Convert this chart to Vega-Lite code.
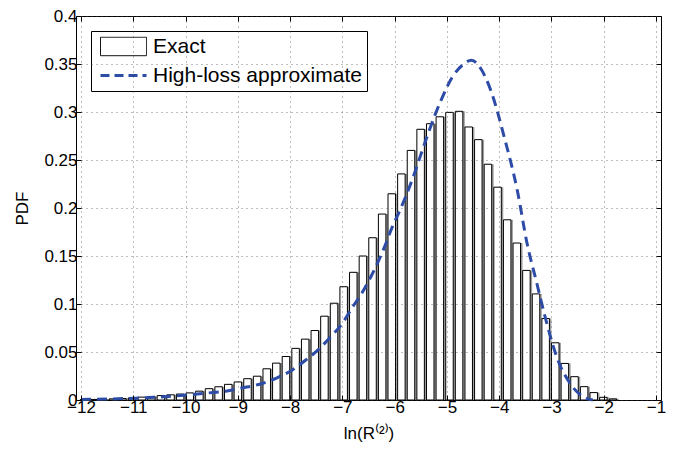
{
  "$schema": "https://vega.github.io/schema/vega-lite/v6.json",
  "autosize": "none",
  "width": 585,
  "height": 384,
  "padding": {"left": 76, "top": 16, "right": 34, "bottom": 50},
  "background": "white",
  "config": {
    "font": "Liberation Sans",
    "view": {"stroke": "black", "strokeWidth": 1},
    "axis": {"labelFont": "Liberation Sans", "titleFont": "Liberation Sans", "labelFontSize": 17, "titleFontSize": 17, "titleFontWeight": "normal", "labelColor": "black", "titleColor": "black", "domain": false, "tickColor": "black"}
  },
  "datasets": {
    "bars": [
      {"x": -11.943, "pdf": 0.0004}, {"x": -11.759, "pdf": 0.0006}, {"x": -11.575, "pdf": 0.0009}, {"x": -11.391, "pdf": 0.0012},
      {"x": -11.207, "pdf": 0.0016}, {"x": -11.023, "pdf": 0.0022}, {"x": -10.839, "pdf": 0.003}, {"x": -10.655, "pdf": 0.0037},
      {"x": -10.471, "pdf": 0.0046}, {"x": -10.287, "pdf": 0.0054}, {"x": -10.103, "pdf": 0.0062}, {"x": -9.919, "pdf": 0.0074},
      {"x": -9.735, "pdf": 0.0092}, {"x": -9.551, "pdf": 0.0118}, {"x": -9.367, "pdf": 0.0138}, {"x": -9.183, "pdf": 0.0163},
      {"x": -8.999, "pdf": 0.0188}, {"x": -8.815, "pdf": 0.0222}, {"x": -8.631, "pdf": 0.0248}, {"x": -8.447, "pdf": 0.0325},
      {"x": -8.263, "pdf": 0.0384}, {"x": -8.079, "pdf": 0.0453}, {"x": -7.895, "pdf": 0.0538}, {"x": -7.711, "pdf": 0.0634},
      {"x": -7.527, "pdf": 0.0724}, {"x": -7.343, "pdf": 0.0873}, {"x": -7.159, "pdf": 0.1008}, {"x": -6.975, "pdf": 0.118},
      {"x": -6.791, "pdf": 0.133}, {"x": -6.607, "pdf": 0.15}, {"x": -6.423, "pdf": 0.169}, {"x": -6.239, "pdf": 0.1937},
      {"x": -6.055, "pdf": 0.2148}, {"x": -5.871, "pdf": 0.2355}, {"x": -5.687, "pdf": 0.26}, {"x": -5.503, "pdf": 0.282},
      {"x": -5.319, "pdf": 0.2878}, {"x": -5.135, "pdf": 0.295}, {"x": -4.951, "pdf": 0.2996}, {"x": -4.767, "pdf": 0.3007},
      {"x": -4.583, "pdf": 0.2844}, {"x": -4.399, "pdf": 0.2712}, {"x": -4.215, "pdf": 0.2456}, {"x": -4.031, "pdf": 0.2217},
      {"x": -3.847, "pdf": 0.1877}, {"x": -3.663, "pdf": 0.1635}, {"x": -3.479, "pdf": 0.135}, {"x": -3.295, "pdf": 0.1105},
      {"x": -3.111, "pdf": 0.0849}, {"x": -2.927, "pdf": 0.0596}, {"x": -2.743, "pdf": 0.0381}, {"x": -2.559, "pdf": 0.0243},
      {"x": -2.375, "pdf": 0.0139}, {"x": -2.191, "pdf": 0.0077}, {"x": -2.007, "pdf": 0.0028}, {"x": -1.823, "pdf": 0.0012}
    ],
    "curve": [
      {"x": -12.0, "pdf": 0.0005}, {"x": -11.5, "pdf": 0.001}, {"x": -11.0, "pdf": 0.0018}, {"x": -10.5, "pdf": 0.003},
      {"x": -9.92, "pdf": 0.0055}, {"x": -9.58, "pdf": 0.0073}, {"x": -9.23, "pdf": 0.0092}, {"x": -8.92, "pdf": 0.0125},
      {"x": -8.6, "pdf": 0.0162}, {"x": -8.26, "pdf": 0.0229}, {"x": -7.95, "pdf": 0.0315}, {"x": -7.69, "pdf": 0.042},
      {"x": -7.45, "pdf": 0.053}, {"x": -7.22, "pdf": 0.066}, {"x": -7.0, "pdf": 0.08}, {"x": -6.82, "pdf": 0.0956},
      {"x": -6.62, "pdf": 0.112}, {"x": -6.44, "pdf": 0.13}, {"x": -6.19, "pdf": 0.16}, {"x": -6.07, "pdf": 0.177},
      {"x": -5.88, "pdf": 0.2}, {"x": -5.66, "pdf": 0.23}, {"x": -5.44, "pdf": 0.265}, {"x": -5.22, "pdf": 0.298},
      {"x": -5.09, "pdf": 0.315}, {"x": -4.9, "pdf": 0.336}, {"x": -4.7, "pdf": 0.349}, {"x": -4.53, "pdf": 0.354},
      {"x": -4.35, "pdf": 0.345}, {"x": -4.157, "pdf": 0.322}, {"x": -3.904, "pdf": 0.274}, {"x": -3.654, "pdf": 0.2185},
      {"x": -3.466, "pdf": 0.163}, {"x": -3.28, "pdf": 0.1216}, {"x": -3.09, "pdf": 0.08}, {"x": -2.902, "pdf": 0.0453},
      {"x": -2.65, "pdf": 0.0177}, {"x": -2.4, "pdf": 0.0037}, {"x": -2.21, "pdf": 0.0}
    ]
  },
  "resolve": {"axis": {"x": "independent", "y": "independent"}},
  "layer": [
    {
      "data": {"name": "bars"},
      "mark": {"type": "bar", "fill": "#a0a0a0", "width": 7.5, "xOffset": 2},
      "encoding": {
        "x": {"field": "x", "type": "quantitative", "scale": {"domain": [-12, -1], "nice": false, "zero": false},
          "axis": {"values": [-12,-11,-10,-9,-8,-7,-6,-5,-4,-3,-2,-1], "format": "d", "title": "ln(R⁽²⁾)", "titlePadding": 10, "labelPadding": 4, "tickSize": -5, "grid": true, "gridColor": "#444", "gridDash": [1, 4], "gridOpacity": 0.7, "zindex": 1}},
        "y": {"field": "pdf", "type": "quantitative", "scale": {"domain": [0, 0.4], "nice": false},
          "axis": {"values": [0,0.05,0.1,0.15,0.2,0.25,0.3,0.35,0.4], "format": ".2~f", "title": "PDF", "titlePadding": 12, "labelPadding": 4, "tickSize": -5, "grid": true, "gridColor": "#444", "gridDash": [1, 4], "gridOpacity": 0.7, "zindex": 1}}
      }
    },
    {
      "data": {"name": "bars"},
      "transform": [{"calculate": "'Exact'", "as": "series"}],
      "mark": {"type": "bar", "fill": "white", "strokeWidth": 1, "width": 7.5},
      "encoding": {
        "x": {"field": "x", "type": "quantitative", "axis": null},
        "y": {"field": "pdf", "type": "quantitative", "axis": null},
        "stroke": {"field": "series", "type": "nominal",
          "scale": {"domain": ["Exact", "High-loss approximate"], "range": ["black", "#2D4CA8"]},
          "legend": {
            "title": null, "orient": "top-left", "offset": 15, "direction": "vertical",
            "labelFont": "Liberation Sans", "labelFontSize": 21, "labelColor": "black", "labelOffset": 19, "labelLimit": 400,
            "strokeColor": "black", "fillColor": "white", "padding": 5, "rowPadding": 6,
            "symbolSize": 2116, "symbolOffset": 17,
            "symbolType": {"expr": "datum.value === 'Exact' ? 'M-1,-0.4H1V0.4H-1Z' : 'M-1,0H1'"},
            "symbolFillColor": {"expr": "datum.value === 'Exact' ? 'white' : 'transparent'"},
            "symbolDash": {"expr": "datum.value === 'Exact' ? [1,0] : [9,5]"},
            "symbolStrokeWidth": {"expr": "datum.value === 'Exact' ? 1 : 3"},
            "symbolOpacity": 1
          }}
      }
    },
    {
      "data": {"name": "curve"},
      "transform": [{"calculate": "'High-loss approximate'", "as": "series"}],
      "mark": {"type": "line", "strokeWidth": 3, "strokeDash": [10, 6], "interpolate": "monotone"},
      "encoding": {
        "x": {"field": "x", "type": "quantitative", "axis": {"orient": "top", "values": [-12,-11,-10,-9,-8,-7,-6,-5,-4,-3,-2,-1], "labels": false, "title": null, "tickSize": -5, "grid": false}},
        "y": {"field": "pdf", "type": "quantitative", "axis": {"orient": "right", "values": [0,0.05,0.1,0.15,0.2,0.25,0.3,0.35,0.4], "labels": false, "title": null, "tickSize": -5, "grid": false}},
        "stroke": {"field": "series", "type": "nominal"}
      }
    }
  ]
}
